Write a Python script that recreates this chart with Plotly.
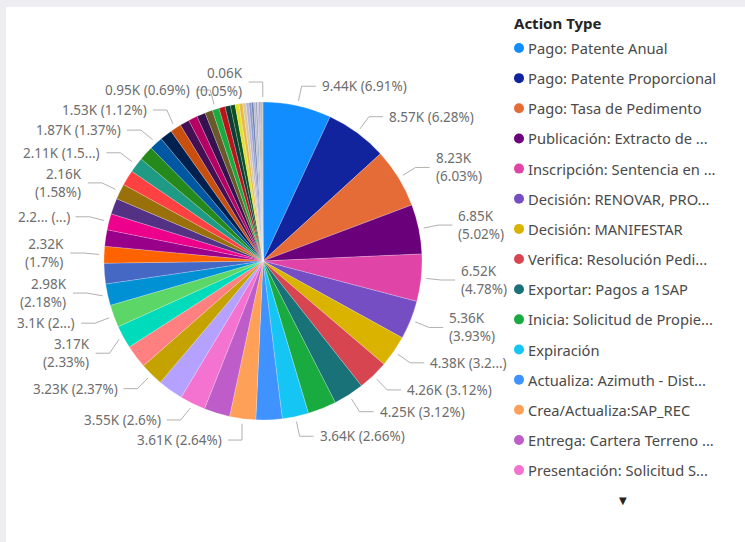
import numpy as np
import plotly.graph_objects as go

# ---------------- data ----------------
legend_title = "Action Type"

categories = [
    "Pago: Patente Anual", "Pago: Patente Proporcional", "Pago: Tasa de Pedimento",
    "Publicación: Extracto de ...", "Inscripción: Sentencia en ...", "Decisión: RENOVAR, PRO...",
    "Decisión: MANIFESTAR", "Verifica: Resolución Pedi...", "Exportar: Pagos a 1SAP",
    "Inicia: Solicitud de Propie...", "Expiración", "Actualiza: Azimuth - Dist...",
    "Crea/Actualiza:SAP_REC", "Entrega: Cartera Terreno ...", "Presentación: Solicitud S...",
] + [f"Tipo de acción {i}" for i in range(16, 56)]

# values in thousands (K) (unlabelled slices estimated)
values_k = [
    9.44, 8.57, 8.23, 6.85, 6.52, 5.36, 4.38, 4.26, 4.25, 3.95,
    3.64, 3.62, 3.61, 3.58, 3.55, 3.50, 3.23, 3.20, 3.17, 3.10,
    2.98, 2.85, 2.32, 2.27, 2.23, 2.19, 2.16, 2.13, 2.11, 2.00,
    1.87, 1.70, 1.53, 1.30, 1.25, 1.20, 1.05, 0.95, 0.85, 0.75,
    0.65, 0.55, 0.50, 0.45, 0.40, 0.35, 0.30, 0.27, 0.24, 0.20,
    0.17, 0.14, 0.11, 0.09, 0.06,
]

# data labels as shown in the reference ("" = label hidden)
slice_labels = [
    "9.44K (6.91%)", "8.57K (6.28%)", "8.23K<br>(6.03%)", "6.85K<br>(5.02%)", "6.52K<br>(4.78%)",
    "5.36K<br>(3.93%)", "4.38K (3.2...)", "4.26K (3.12%)", "4.25K (3.12%)", "",
    "3.64K (2.66%)", "", "3.61K (2.64%)", "", "3.55K (2.6%)",
    "", "3.23K (2.37%)", "", "3.17K<br>(2.33%)", "3.1K (2...)",
    "2.98K<br>(2.18%)", "", "2.32K<br>(1.7%)", "", "2.2... (...)",
    "", "2.16K<br>(1.58%)", "", "2.11K (1.5...)", "",
    "1.87K (1.37%)", "", "1.53K (1.12%)", "", "",
    "", "", "0.95K (0.69%)", "", "",
    "", "", "", "", "",
    "", "", "", "", "",
    "", "", "", "", "0.06K<br>(0.05%)",
]

colors = [
    "#118DFF", "#12239E", "#E66C37", "#6B007B", "#E044A7", "#744EC2", "#D9B300", "#D64550",
    "#197278", "#1AAB40", "#15C6F4", "#4092FF", "#FFA058", "#BE5DC9", "#F472D0", "#B5A1FF",
    "#C4A200", "#FF8080", "#00DBBC", "#5BD667", "#0091D5", "#4668C5", "#FF6300", "#99008A",
    "#EC008C", "#533285", "#99700A", "#FF4141", "#1F9A85", "#25891C", "#0057A2", "#002050",
    "#C94F0F", "#450F54", "#B60064", "#34124F", "#6A5A29", "#1AAB40", "#BA141A", "#0C3D37",
    "#0B511F", "#E3E12A", "#E8B84A", "#D9C9A3", "#B8B4D6", "#8E9BD1", "#6C7FB5", "#B5BAC2",
    "#9AA3B8", "#C9B8E0", "#A89A8E", "#93A7B2", "#7E8C9A", "#AFAFAF", "#8A8A8A",
]

legend_visible = 15

# ---------------- geometry (pixels) ----------------
W, H = 745, 542
CX, CY, R = 263.0, 261.0, 159.0
LEAD0, ELB, HSEG, GAP = 5.0, 20.0, 14.0, 4.0
LABEL_FS = 13.5
LINE_H = 20.0
CHAR_W = 6.5


def fx(x):
    return x / W


def fy(y):
    return 1.0 - y / H


vals = np.array(values_k, dtype=float)
total = vals.sum()
mid = (np.cumsum(vals) - vals / 2.0) / total * 2 * np.pi

fig = go.Figure(
    go.Pie(
        labels=categories,
        values=values_k,
        sort=False,
        direction="clockwise",
        rotation=0,
        textinfo="none",
        showlegend=False,
        marker=dict(colors=colors, line=dict(color="rgba(255,255,255,0.35)", width=0.6)),
        domain=dict(x=[fx(CX - R), fx(CX + R)], y=[fy(CY + R), fy(CY - R)]),
        hovertemplate="%{label}<br>%{value:.2f}K (%{percent})<extra></extra>",
    )
)

# ---------------- data label layout (collision avoidance) ----------------
items = []
for i, txt in enumerate(slice_labels):
    if not txt:
        continue
    th = mid[i]
    side = 1 if np.sin(th) >= 0 else -1
    lines = txt.split("<br>")
    items.append(dict(
        th=th, side=side, txt=txt,
        h=LINE_H * len(lines),
        w=max(len(s) for s in lines) * CHAR_W,
        y=CY - (R + ELB) * np.cos(th),
        ax=CX + (R + LEAD0) * np.sin(th), ay=CY - (R + LEAD0) * np.cos(th),
    ))


def elbow_x(it):
    rr = R + ELB
    dy = it["y"] - CY
    if abs(dy) < rr:
        ex = CX + it["side"] * np.sqrt(rr * rr - dy * dy)
    else:
        ex = CX
    if it["side"] > 0:
        ex = max(ex, it["ax"])
    else:
        ex = min(ex, it["ax"])
    return ex


def box(it):
    ex = elbow_x(it)
    if it["side"] > 0:
        x0 = ex + HSEG + GAP
        x1 = x0 + it["w"]
    else:
        x1 = ex - HSEG - GAP
        x0 = x1 - it["w"]
    return x0, x1, it["y"] - it["h"] / 2, it["y"] + it["h"] / 2


for _ in range(400):
    moved = False
    for a in range(len(items)):
        for b in range(a + 1, len(items)):
            A, B = items[a], items[b]
            if A["side"] != B["side"]:
                continue
            ax0, ax1, ay0, ay1 = box(A)
            bx0, bx1, by0, by1 = box(B)
            if ax1 <= bx0 or bx1 <= ax0:
                continue
            ov = min(ay1, by1) - max(ay0, by0)
            if ov > 0.01:
                up, dn = (A, B) if A["y"] <= B["y"] else (B, A)
                up["y"] -= ov / 2 + 0.05
                dn["y"] += ov / 2 + 0.05
                moved = True
    if not moved:
        break

shapes = [
    dict(type="rect", xref="paper", yref="paper", x0=fx(6), x1=1.0, y0=0.0, y1=fy(7),
         fillcolor="white", line=dict(width=0), layer="below"),
]
annotations = []
for it in items:
    ex = elbow_x(it)
    ey = it["y"]
    hx = ex + it["side"] * HSEG
    shapes.append(dict(
        type="path", xref="paper", yref="paper",
        path=f"M {fx(it['ax'])},{fy(it['ay'])} L {fx(ex)},{fy(ey)} L {fx(hx)},{fy(ey)}",
        line=dict(color="#B3B0AD", width=1),
    ))
    annotations.append(dict(
        xref="paper", yref="paper", x=fx(hx + it["side"] * GAP), y=fy(ey),
        text=it["txt"], showarrow=False,
        xanchor="left" if it["side"] > 0 else "right", yanchor="middle",
        align="left" if it["side"] > 0 else "right",
        font=dict(family="Noto Sans", size=LABEL_FS, color="#6E6E6E"),
    ))

# ---------------- legend (Power BI style, scrolled list) ----------------
LEG_X, LEG_TITLE_Y, LEG_Y0, LEG_DY = 513.0, 23.0, 48.0, 30.15
annotations.append(dict(
    xref="paper", yref="paper", x=fx(LEG_X - 1), y=fy(LEG_TITLE_Y), text=f"<b>{legend_title}</b>",
    showarrow=False, xanchor="left", yanchor="middle",
    font=dict(family="Noto Sans", size=15, color="#252423"),
))
for k in range(legend_visible):
    yy = LEG_Y0 + k * LEG_DY
    shapes.append(dict(
        type="circle", xref="paper", yref="paper",
        x0=fx(LEG_X + 1), x1=fx(LEG_X + 11), y0=fy(yy - 5), y1=fy(yy + 5),
        fillcolor=colors[k], line=dict(width=0),
    ))
    annotations.append(dict(
        xref="paper", yref="paper", x=fx(LEG_X + 13), y=fy(yy), text=categories[k],
        showarrow=False, xanchor="left", yanchor="middle",
        font=dict(family="Noto Sans", size=14.7, color="#4A4A4A"),
    ))
annotations.append(dict(
    xref="paper", yref="paper", x=fx(623), y=fy(500), text="▼", showarrow=False,
    xanchor="center", yanchor="middle", font=dict(family="DejaVu Sans", size=10, color="#252423"),
))

fig.update_layout(
    width=W, height=H,
    margin=dict(l=0, r=0, t=0, b=0),
    paper_bgcolor="#EEEEF2",
    plot_bgcolor="white",
    shapes=shapes,
    annotations=annotations,
    showlegend=False,
)

fig.write_html(
    "out.html",
    config={"displayModeBar": False},
    post_script="document.body.style.margin='0';document.body.style.padding='0';"
                "document.body.style.background='#EEEEF2';"
                "document.documentElement.style.overflow='hidden';",
)
